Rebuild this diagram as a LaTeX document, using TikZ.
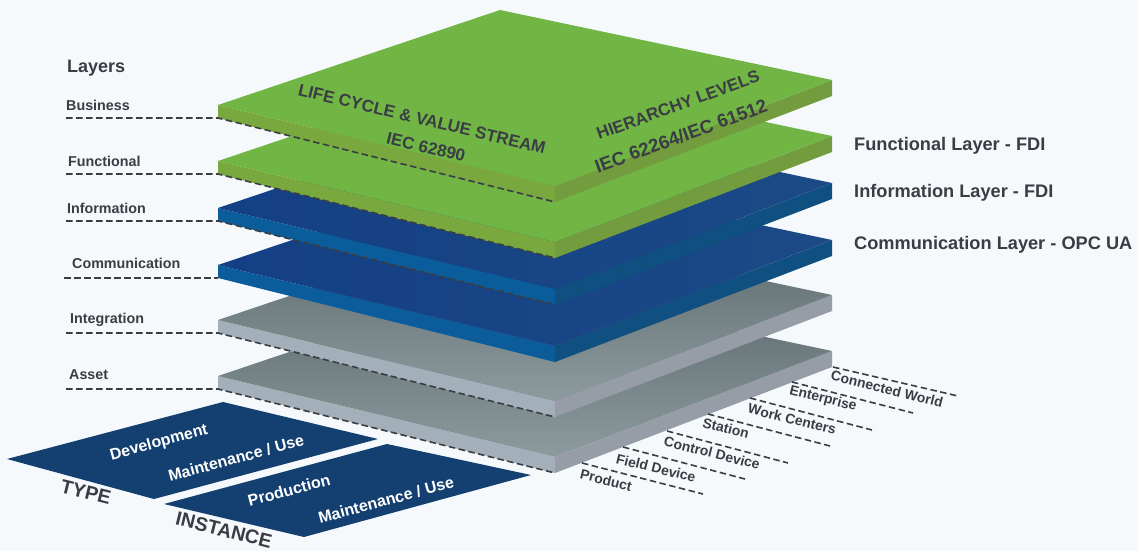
\documentclass[tikz,border=0pt]{standalone}
\usepackage{fontspec}
\setmainfont{Liberation Sans}
\definecolor{pagebg}{HTML}{F5F9FC}
\definecolor{inkgray}{HTML}{3A3D44}
\definecolor{greentop}{HTML}{71B545}
\definecolor{greenleft}{HTML}{78A83E}
\definecolor{greenright}{HTML}{739C3F}
\definecolor{bluefront}{HTML}{143F85}
\definecolor{blueback}{HTML}{1B4A86}
\definecolor{blueleft}{HTML}{0B5C9A}
\definecolor{blueright}{HTML}{0F5080}
\definecolor{grayback}{HTML}{5A686C}
\definecolor{grayfront}{HTML}{8D9A9E}
\definecolor{grayleft}{HTML}{A4B0B9}
\definecolor{grayright}{HTML}{969DA6}
\definecolor{navy}{HTML}{134070}
\begin{document}
\begin{tikzpicture}[x=1pt,y=-1pt,
		greenface/.style={fill=greentop},
		blueface/.style={left color=bluefront,right color=blueback},
		grayface/.style={top color=grayback,bottom color=grayfront},
		dashline/.style={draw=inkgray,line width=1.6pt,dash pattern=on 6.5pt off 3.5pt},
		layerlabel/.style={text=inkgray,anchor=west,inner sep=0pt,font=\bfseries\fontsize{14.3}{15}\selectfont},
		sidelabel/.style={text=inkgray,anchor=west,inner sep=0pt,font=\bfseries\fontsize{18.2}{19}\selectfont},
		levellabel/.style={text=inkgray,inner sep=0pt,rotate=-14,font=\bfseries\fontsize{13.9}{14}\selectfont},
		axislabel/.style={text=inkgray,inner sep=0pt,font=\bfseries\fontsize{17}{17}\selectfont},
		lifelabel/.style={text=white,inner sep=0pt,rotate=15,font=\bfseries\fontsize{16}{16}\selectfont},
		kindlabel/.style={text=inkgray,inner sep=0pt,rotate=-14,font=\bfseries\fontsize{19.5}{20}\selectfont}]

\useasboundingbox (0,0) rectangle (1138,551);
\fill[pagebg] (0,0) rectangle (1138,551);

\fill[navy] (7,459) -- (223,402) -- (378,439) -- (154,499) -- cycle;
\fill[navy] (164,504) -- (387,444) -- (531,475) -- (304,537) -- cycle;

\fill[grayleft] (218,376) -- (555,457) -- (555,473) -- (218,389) -- cycle;
\fill[grayright] (555,457) -- (832,351) -- (832,367) -- (555,473) -- cycle;
\shade[grayface] (218,376) -- (500,281) -- (832,351) -- (555,457) -- cycle;
\coordinate (assetstart) at (66,389);
\coordinate (assetleft) at (218,389);
\coordinate (assetfront) at (555,473);
\draw[dashline] (assetstart) -- (assetleft) -- (assetfront);

\fill[grayleft] (218,320) -- (555,401) -- (555,417) -- (218,333) -- cycle;
\fill[grayright] (555,401) -- (832,295) -- (832,311) -- (555,417) -- cycle;
\shade[grayface] (218,320) -- (500,225) -- (832,295) -- (555,401) -- cycle;
\coordinate (integrationstart) at (66,333);
\coordinate (integrationleft) at (218,333);
\coordinate (integrationfront) at (555,417);
\draw[dashline] (integrationstart) -- (integrationleft) -- (integrationfront);

\fill[blueleft] (218,265) -- (555,346) -- (555,362) -- (218,278) -- cycle;
\fill[blueright] (555,346) -- (832,240) -- (832,256) -- (555,362) -- cycle;
\shade[blueface] (218,265) -- (500,170) -- (832,240) -- (555,346) -- cycle;
\coordinate (commstart) at (64,278);
\coordinate (commleft) at (218,278);
\draw[dashline] (commstart) -- (commleft);

\fill[blueleft] (218,208) -- (555,289) -- (555,305) -- (218,221) -- cycle;
\fill[blueright] (555,289) -- (832,183) -- (832,199) -- (555,305) -- cycle;
\shade[blueface] (218,208) -- (500,113) -- (832,183) -- (555,289) -- cycle;
\coordinate (infostart) at (66,221);
\coordinate (infoleft) at (218,221);
\coordinate (infofront) at (555,305);
\draw[dashline] (infostart) -- (infoleft) -- (infofront);

\fill[greenleft] (218,161) -- (555,242) -- (555,258) -- (218,174) -- cycle;
\fill[greenright] (555,242) -- (832,136) -- (832,152) -- (555,258) -- cycle;
\fill[greenface] (218,161) -- (500,66) -- (832,136) -- (555,242) -- cycle;
\coordinate (funcstart) at (66,174);
\coordinate (funcleft) at (218,174);
\coordinate (funcfront) at (555,258);
\draw[dashline] (funcstart) -- (funcleft) -- (funcfront);

\fill[greenleft] (218,105) -- (555,186) -- (555,202) -- (218,118) -- cycle;
\fill[greenright] (555,186) -- (832,80) -- (832,96) -- (555,202) -- cycle;
\fill[greenface] (218,105) -- (500,10) -- (832,80) -- (555,186) -- cycle;
\coordinate (busstart) at (66,118);
\coordinate (busleft) at (218,118);
\coordinate (busfront) at (555,202);
\draw[dashline] (busstart) -- (busleft) -- (busfront);

\coordinate (prodstart) at (582,463);
\coordinate (prodend) at (703,494);
\coordinate (fieldstart) at (623,447);
\coordinate (fieldend) at (745,479);
\coordinate (controlstart) at (667,431);
\coordinate (controlend) at (788,463);
\coordinate (stationstart) at (708,414);
\coordinate (stationend) at (830,446);
\coordinate (workstart) at (750,398);
\coordinate (workend) at (872,430);
\coordinate (enterstart) at (792,382);
\coordinate (enterend) at (913,413);
\coordinate (worldstart) at (833,367);
\coordinate (worldend) at (958,396);
\draw[dashline] (prodstart) -- (prodend);
\draw[dashline] (fieldstart) -- (fieldend);
\draw[dashline] (controlstart) -- (controlend);
\draw[dashline] (stationstart) -- (stationend);
\draw[dashline] (workstart) -- (workend);
\draw[dashline] (enterstart) -- (enterend);
\draw[dashline] (worldstart) -- (worldend);

\node[layerlabel,font=\bfseries\fontsize{18}{18}\selectfont] (layers) at (67,68) {Layers};
\node[layerlabel] (business) at (66,105) {Business};
\node[layerlabel] (functional) at (68,161) {Functional};
\node[layerlabel] (information) at (67,208) {Information};
\node[layerlabel] (communication) at (72,263) {Communication};
\node[layerlabel] (integration) at (70,320) {Integration};
\node[layerlabel] (asset) at (69,375) {Asset};

\node[sidelabel] (funcfdi) at (854,146) {Functional Layer - FDI};
\node[sidelabel] (infofdi) at (854,193) {Information Layer - FDI};
\node[sidelabel] (commopc) at (854,245) {Communication Layer - OPC UA};

\node[axislabel,rotate=-13.5] (lifecycle) at (422,119) {LIFE CYCLE \& VALUE STREAM};
\node[axislabel,rotate=-13.5] (iecstream) at (426,147) {IEC 62890};
\node[axislabel,rotate=20] (hierarchy) at (678,105) {HIERARCHY LEVELS};
\node[axislabel,rotate=20,font=\bfseries\fontsize{18.7}{19}\selectfont] (iechier) at (681,136) {IEC 62264/IEC 61512};

\node[levellabel] (product) at (606,480) {Product};
\node[levellabel] (fielddev) at (656,468) {Field Device};
\node[levellabel] (controldev) at (712,453) {Control Device};
\node[levellabel] (station) at (726,428) {Station};
\node[levellabel] (workcenters) at (792,419) {Work Centers};
\node[levellabel] (enterprise) at (823,399) {Enterprise};
\node[levellabel] (world) at (887,389) {Connected World};

\node[lifelabel] (develop) at (159,443) {Development};
\node[lifelabel] (maintype) at (236,458) {Maintenance / Use};
\node[lifelabel] (production) at (289,490) {Production};
\node[lifelabel] (maininst) at (386,500) {Maintenance / Use};
\node[kindlabel] (typelabel) at (86,492) {TYPE};
\node[kindlabel] (instlabel) at (224,530) {INSTANCE};
\end{tikzpicture}
\end{document}
